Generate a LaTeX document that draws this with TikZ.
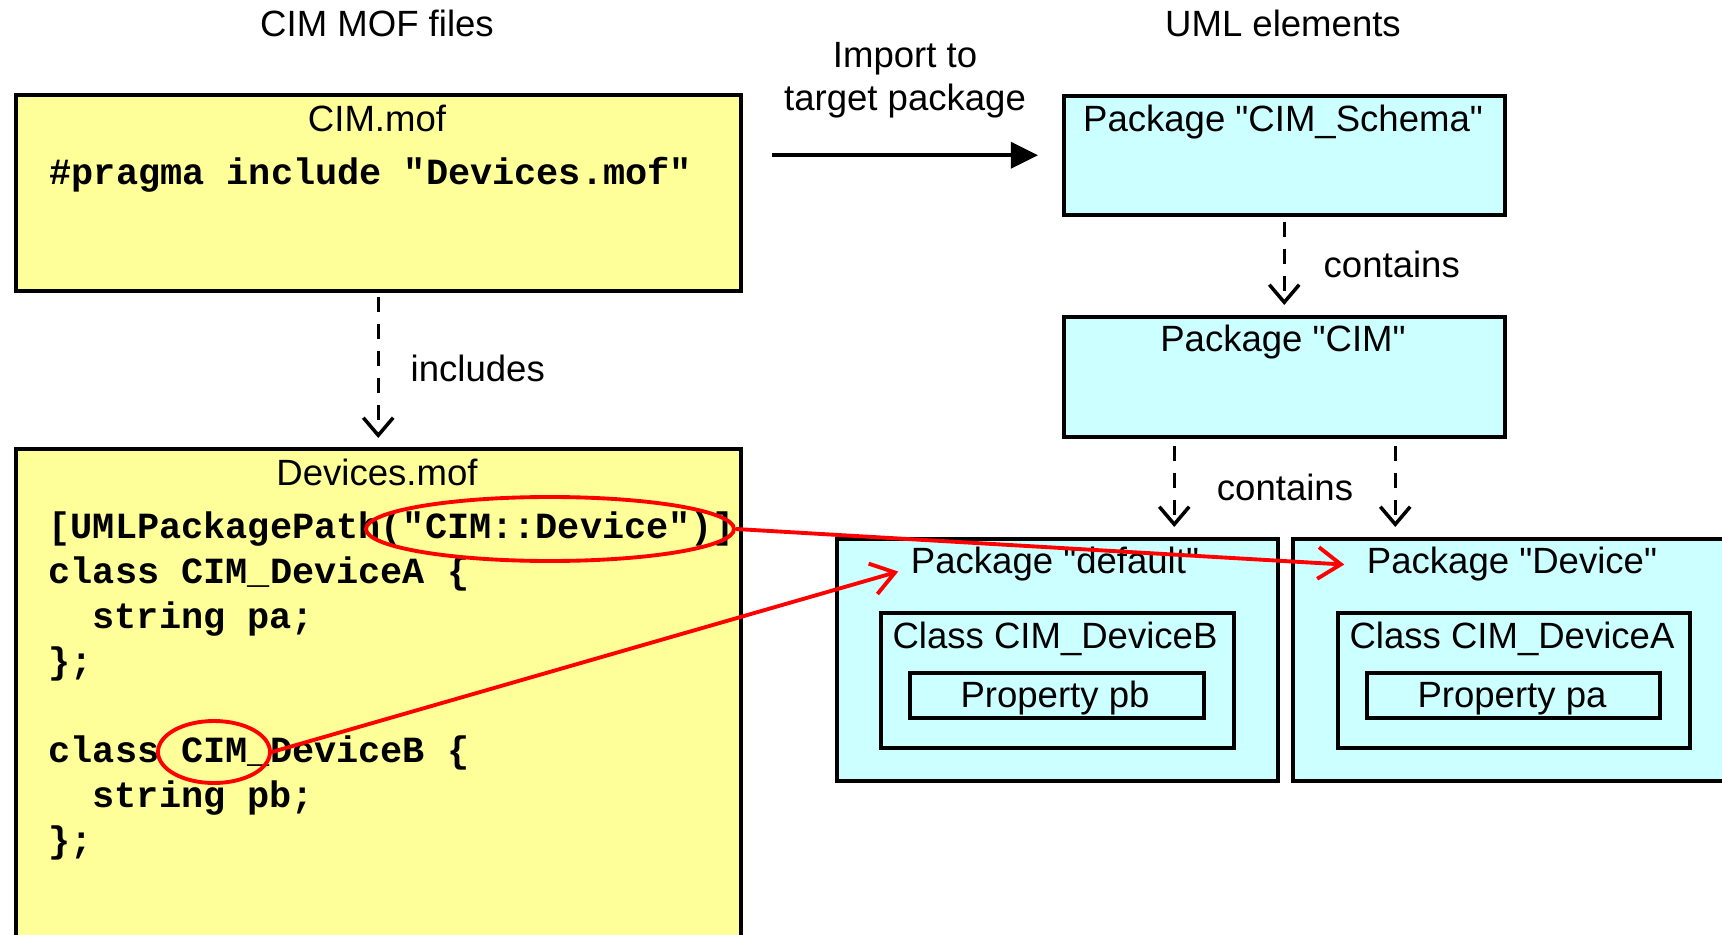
\documentclass[tikz,border=0pt]{standalone}
\usepackage{fontspec}
\setmainfont{Liberation Sans}[Ligatures=TeXOff]
\setmonofont{Liberation Mono}
\usetikzlibrary{arrows.meta,shapes.geometric}
\definecolor{yel}{HTML}{FFFF99}
\definecolor{cyn}{HTML}{CCFFFF}
\definecolor{redl}{HTML}{FF0000}
\newcommand\lblfnt{\fontsize{10.4pt}{12pt}\selectfont}
\newcommand\codefnt{\fontsize{10.5pt}{12pt}\selectfont\ttfamily\bfseries}
\tikzset{
  box/.style={draw, line width=1pt, inner sep=0pt, anchor=north west},
  ybox/.style={box, fill=yel},
  cbox/.style={box, fill=cyn},
  lbl/.style={font=\lblfnt, anchor=base, inner sep=0pt},
  lblw/.style={font=\lblfnt, anchor=base west, inner sep=0pt},
  code/.style={font=\codefnt, anchor=base west, inner sep=0pt},
  dasharrow/.style={line width=1pt, dash pattern=on 4.3pt off 3.4pt, -{Straight Barb[length=5pt,width=8.5pt,line width=1pt]}},
  imparrow/.style={line width=1pt, -{Triangle[length=7.7pt,width=7.4pt]}},
  redarrow/.style={draw=redl, line width=1.1pt, -{Straight Barb[length=6.5pt,width=9pt,line width=1.1pt]}},
  redring/.style={draw=redl, line width=1.1pt, ellipse, inner sep=0pt}
}
\begin{document}
\begin{tikzpicture}[x=0.1mm,y=-0.1mm]
\useasboundingbox (0,0) rectangle (1722,935);
\clip (0,0) rectangle (1722,935);
\fill[white] (0,0) rectangle (1722,935);

% titles
\node[lbl] (t1) at (377,37) {CIM MOF files};
\node[lbl] (t2) at (1283,37) {UML elements};
\node[lbl] (imp1) at (905,68) {Import to};
\node[lbl] (imp2) at (905,111) {target package};

% left boxes
\node[ybox, minimum width=72.5mm, minimum height=19.6mm] (cimmof) at (14,93) {};
\node[ybox, minimum width=72.5mm, minimum height=56mm] (devmof) at (14,447) {};
\node[lbl] (cimmofl) at (377,132) {CIM.mof};
\node[code] (pragma) at (49,185) {\#pragma include "Devices.mof"};
\node[lbl] (devmofl) at (377,485) {Devices.mof};
\node[code] (c1) at (48,538) {[UMLPackagePath("CIM::Device")]};
\node[code] (c2) at (48,583) {class CIM\_DeviceA \{};
\node[code] (c3) at (92,628) {string pa;};
\node[code] (c4) at (48,673) {\};};
\node[code] (c5) at (48,762) {class CIM\_DeviceB \{};
\node[code] (c6) at (92,807) {string pb;};
\node[code] (c7) at (48,852) {\};};

% right boxes
\node[cbox, minimum width=44.1mm, minimum height=11.9mm] (schema) at (1062,94) {};
\node[cbox, minimum width=44.1mm, minimum height=12mm] (cimpkg) at (1062,315) {};
\node[cbox, minimum width=44.1mm, minimum height=24.2mm] (pdef) at (835,537) {};
\node[cbox, minimum width=44.1mm, minimum height=24.2mm] (pdev) at (1291,537) {};
\node[cbox, minimum width=35.3mm, minimum height=13.5mm] (clsB) at (879,611) {};
\node[cbox, minimum width=29.4mm, minimum height=4.5mm] (propB) at (908,671) {};
\node[cbox, minimum width=35.2mm, minimum height=13.5mm] (clsA) at (1336,611) {};
\node[cbox, minimum width=29.3mm, minimum height=4.5mm] (propA) at (1365,671) {};

\node[lbl] (schemal) at (1283,132) {Package "CIM\_Schema"};
\node[lbl] (cimpkgl) at (1283,352) {Package "CIM"};
\node[lbl] (pdefl) at (1055,573) {Package "default"};
\node[lbl] (pdevl) at (1512,573) {Package "Device"};
\node[lbl] (clsBl) at (1055,648) {Class CIM\_DeviceB};
\node[lbl] (clsAl) at (1512,648) {Class CIM\_DeviceA};
\node[lbl] (propBl) at (1055,707) {Property pb};
\node[lbl] (propAl) at (1512,707) {Property pa};

% connector labels
\node[lblw] (incl) at (410,382) {includes};
\node[lblw] (cont1) at (1323,278) {contains};
\node[lbl] (cont2) at (1285,500) {contains};

% connectors
\draw[imparrow] ([xshift=-29mm]schema.west) -- ([xshift=-2.4mm]schema.west);
\draw[dasharrow, shorten <=0.4mm, shorten >=0.9mm] (cimmof.south) -- (devmof.north);
\draw[dasharrow, shorten <=0.5mm, shorten >=1mm] (schema.south) -- (cimpkg.north);
\draw[dasharrow, shorten <=0.7mm, shorten >=1mm] ([xshift=-11mm]cimpkg.south) -- ([xshift=-11mm]cimpkg.south |- pdef.north);
\draw[dasharrow, shorten <=0.7mm, shorten >=1mm] ([xshift=11.1mm]cimpkg.south) -- ([xshift=11.1mm]cimpkg.south |- pdev.north);

% red highlights
\node[redring, minimum width=36.8mm, minimum height=6.4mm] (e1) at (550,529) {};
\node[redring, minimum width=11.2mm, minimum height=6.2mm] (e2) at (214,752) {};
\draw[redarrow] (e1.east) -- ([xshift=-2.2mm,yshift=-0.1mm]pdevl.west);
\draw[redarrow] (e2.east) -- ([xshift=-1.2mm,yshift=-0.8mm]pdefl.west);
\end{tikzpicture}
\end{document}
